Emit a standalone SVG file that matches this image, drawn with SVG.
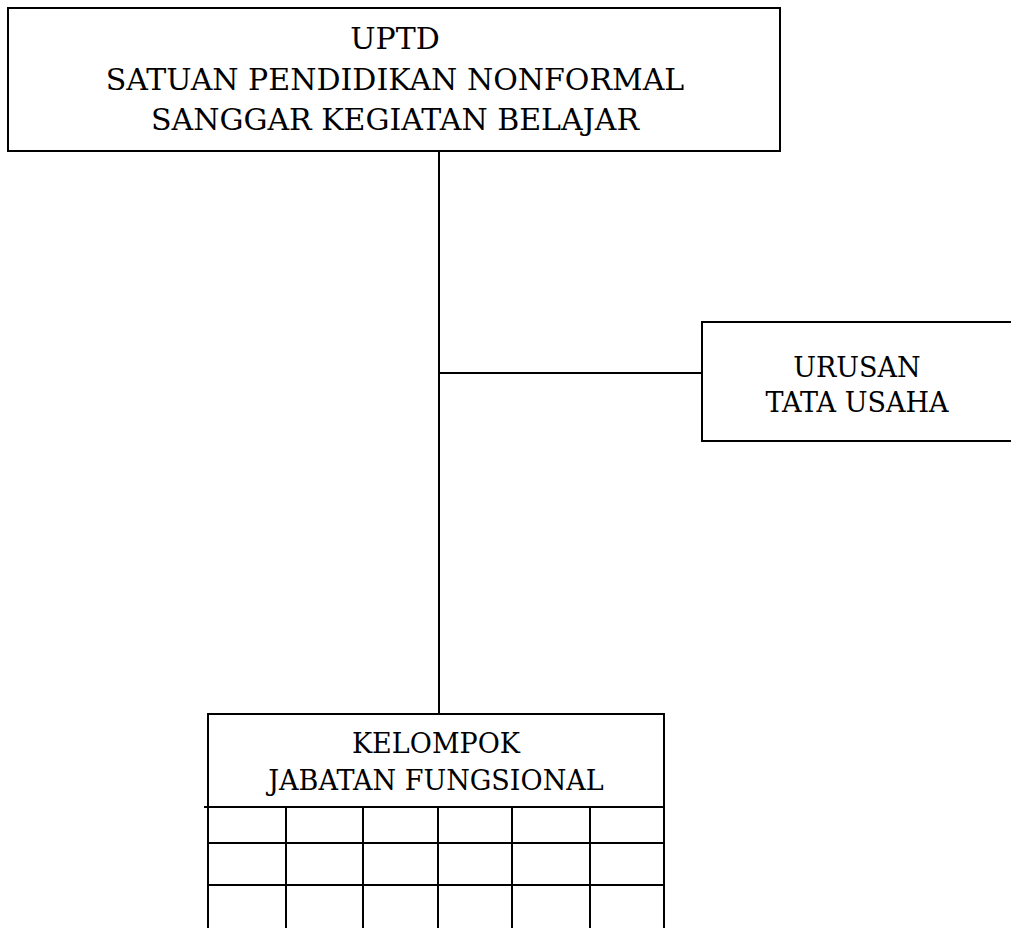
<svg xmlns="http://www.w3.org/2000/svg" width="1011" height="928" viewBox="0 0 1011 928">
<style>
.box{fill:#fff;stroke:#000;stroke-width:2}
.ln{stroke:#000;stroke-width:2;fill:none}
.t{font-family:"DejaVu Serif","Liberation Serif",serif;fill:#000;text-anchor:middle}
.big{font-size:30px}
.mid{font-size:27px}
</style>
<rect width="1011" height="928" fill="#fff"/>
<g id="connectors">
<line class="ln" x1="439" y1="151" x2="439" y2="714"/>
<line class="ln" x1="439" y1="373" x2="702" y2="373"/>
</g>
<g id="node-uptd">
<rect class="box" x="8" y="8" width="772" height="143"/>
<text class="t big" x="395" y="49">UPTD</text>
<text class="t big" x="395" y="90">SATUAN PENDIDIKAN NONFORMAL</text>
<text class="t big" x="395" y="130">SANGGAR KEGIATAN BELAJAR</text>
</g>
<g id="node-urusan">
<rect class="box" x="702" y="322" width="320" height="119"/>
<text class="t mid" x="857" y="377">URUSAN</text>
<text class="t mid" x="857" y="412">TATA USAHA</text>
</g>
<g id="node-kelompok">
<path class="ln" d="M208 928 V714 H664 V928"/>
<text class="t mid" x="436" y="753">KELOMPOK</text>
<text class="t mid" x="436" y="790">JABATAN FUNGSIONAL</text>
<path class="ln" d="M204 807 H663 M208 843 H664 M208 885 H664 M286 808 V928 M363 808 V928 M438 808 V928 M512 808 V928 M590 808 V928"/>
</g>
</svg>
